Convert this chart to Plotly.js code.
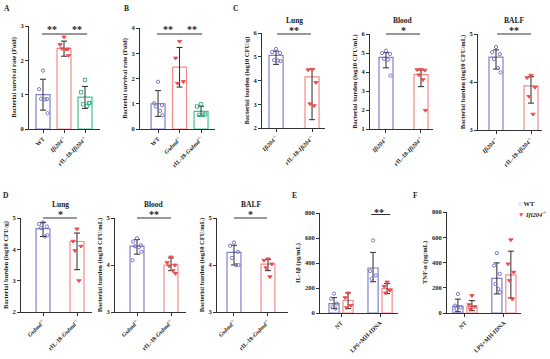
<!DOCTYPE html>
<html><head><meta charset="utf-8">
<script src="https://cdn.plot.ly/plotly-3.0.1.min.js"></script>
<style>html,body{margin:0;padding:0;background:#fff}#chart{width:550px;height:359px}</style>
</head><body><div id="chart"></div>
<script>
// ================= DATA =================
// Panel A – Bacterial survival rate (Fold)
const A_labels = ['WT', '<i>Ifi204</i><sup>-/-</sup>', 'rIL-18-<i>Ifi204</i><sup>-/-</sup>'];
const A_mean = [1.00, 2.35, 0.93];
const A_up   = [0.45, 0.21, 0.31];
const A_dn   = [0.45, 0.23, 0.33];
const A_WT   = [1.70, 1.16, 0.87, 0.88, 0.86, 0.46];
const A_KO   = [2.68, 2.46, 2.33, 2.34, 2.32, 2.14];
const A_RIL  = [1.43, 1.07, 0.75, 0.72, 0.67, 0.76];

// Panel B – Bacterial survival rate (Fold)
const B_labels = ['WT', '<i>Gsdmd</i><sup>-/-</sup>', 'rIL-18-<i>Gsdmd</i><sup>-/-</sup>'];
const B_mean = [1.00, 2.45, 0.70];
const B_up   = [0.52, 0.78, 0.20];
const B_dn   = [0.50, 0.79, 0.18];
const B_WT   = [1.87, 1.02, 0.95, 0.89, 0.72, 0.55];
const B_KO   = [3.47, 2.81, 1.88, 1.81];
const B_RIL  = [0.98, 0.89, 0.58, 0.56, 0.55];

// Panel C – Ifi204-/- vs rIL-18-Ifi204-/-
const C_labels = ['<i>Ifi204</i><sup>-/-</sup>', 'rIL-18-<i>Ifi204</i><sup>-/-</sup>'];
const C_lung_mean = [5.06, 4.15];
const C_lung_up   = [0.18, 0.33];
const C_lung_dn   = [0.38, 1.80];
const C_lung_KO   = [5.33, 5.20, 5.16, 4.86, 4.84, 4.82];
const C_lung_RIL  = [4.47, 4.45, 3.92, 3.02, 2.94];
const C_blood_mean = [4.77, 3.86];
const C_blood_up   = [0.25, 0.24];
const C_blood_dn   = [0.55, 0.63];
const C_blood_KO   = [5.12, 5.00, 4.95, 4.70, 4.65, 3.81];
const C_blood_RIL  = [4.14, 4.12, 4.10, 3.85, 3.60, 1.98];
const C_balf_mean = [4.52, 3.92];
const C_balf_up   = [0.15, 0.19];
const C_balf_dn   = [0.25, 0.36];
const C_balf_KO   = [4.73, 4.62, 4.58, 4.48, 4.29, 4.20];
const C_balf_RIL  = [4.14, 4.09, 3.89, 3.70, 3.33];

// Panel D – Gsdmd-/- vs rIL-18-Gsdmd-/-
const D_labels = ['<i>Gsdmd</i><sup>-/-</sup>', 'rIL-18-<i>Gsdmd</i><sup>-/-</sup>'];
const D_lung_mean = [4.66, 4.25];
const D_lung_up   = [0.20, 0.27];
const D_lung_dn   = [0.25, 0.90];
const D_lung_KO   = [4.86, 4.81, 4.73, 4.68, 4.41, 4.45];
const D_lung_RIL  = [4.65, 4.26, 4.10, 3.96, 3.00];
const D_blood_mean = [4.40, 4.00];
const D_blood_up   = [0.14, 0.15];
const D_blood_dn   = [0.17, 0.12];
const D_blood_KO   = [4.57, 4.50, 4.42, 4.40, 4.38, 4.28, 4.10];
const D_blood_RIL  = [4.17, 4.05, 4.00, 3.98, 3.88, 3.82];
const D_balf_mean = [4.27, 4.02];
const D_balf_up   = [0.15, 0.10];
const D_balf_dn   = [0.27, 0.14];
const D_balf_KO   = [4.48, 4.41, 4.28, 4.15, 4.00, 4.00];
const D_balf_RIL  = [4.13, 4.10, 4.02, 3.94, 3.75];

// Panels E/F – cytokines, WT vs Ifi204-/-
const EF_labels = ['NT', 'LPS+MH-IDNA'];
const E_WT_mean = [75, 360];
const E_WT_up   = [48, 125];
const E_WT_dn   = [40, 110];
const E_KO_mean = [100, 195];
const E_KO_up   = [60, 40];
const E_KO_dn   = [65, 40];
const E_WT_NT   = [155, 115, 75, 50, 35];
const E_KO_NT   = [160, 123, 61, 43];
const E_WT_LPS  = [581, 336, 301, 275];
const E_KO_LPS  = [248, 213, 181, 160];
const F_WT_mean = [55, 275];
const F_WT_up   = [55, 122];
const F_WT_dn   = [45, 124];
const F_KO_mean = [53, 302];
const F_KO_up   = [45, 188];
const F_KO_dn   = [35, 183];
const F_WT_NT   = [151, 58, 45, 32];
const F_KO_NT   = [138, 66, 50, 32];
const F_WT_LPS  = [474, 376, 310, 230, 191, 164];
const F_KO_LPS  = [580, 389, 323, 257, 111];

// ================= STYLE / GEOMETRY =================
const W = 550, H = 359;
const SERIF = 'Liberation Serif, Times New Roman, serif';
const BLUE = '#8181cc', RED = '#f78a8a', GREEN = '#45c194';
const BLUE_PT = '#6c6cc0', RED_PT = '#ee4b4b', GREEN_PT = '#2fae80';
const AXC = '#333';
const JIT = [0, -0.28, 0.28, -0.14, 0.14, 0.32, -0.32];

const WTs = {c: BLUE, pc: BLUE_PT, sym: 'circle', fill: false};
const KOs = {c: RED, pc: RED_PT, sym: 'triangle-down', fill: true};
const RLs = {c: GREEN, pc: GREEN_PT, sym: 'square', fill: false};
const Rs  = {c: RED, pc: RED_PT, sym: 'triangle-down', fill: true};

function grp(x, mean, up, dn, pts, st) { return Object.assign({x, mean, up, dn, pts}, st); }

const panels = [
  {id: 1, xpx: [29, 100], ypx: [26, 129], xr: [-0.667, 2.714], yr: [0, 3], dtick: 1, barW: 0.667,
   ytitle: 'Bacterial survival rate (Fold)', tickvals: [0, 1, 2], ticktext: A_labels,
   groups: [grp(0, A_mean[0], A_up[0], A_dn[0], A_WT, WTs), grp(1, A_mean[1], A_up[1], A_dn[1], A_KO, KOs), grp(2, A_mean[2], A_up[2], A_dn[2], A_RIL, RLs)],
   sig: {x0: -0.05, x1: 2.1, py: 34}, stars: [{x: 0.43, py: 27, t: '**'}, {x: 1.62, py: 27, t: '**'}]},
  {id: 2, xpx: [140, 215], ypx: [28, 129], xr: [-0.84, 2.65], yr: [0, 4], dtick: 1, barW: 0.65,
   ytitle: 'Bacterial survival rate (Fold)', tickvals: [0, 1, 2], ticktext: B_labels,
   groups: [grp(0, B_mean[0], B_up[0], B_dn[0], B_WT, WTs), grp(1, B_mean[1], B_up[1], B_dn[1], B_KO, KOs), grp(2, B_mean[2], B_up[2], B_dn[2], B_RIL, RLs)],
   sig: {x0: -0.05, x1: 2.05, py: 34}, stars: [{x: 0.47, py: 27, t: '**'}, {x: 1.58, py: 27, t: '**'}]},
  {id: 3, xpx: [262, 325], ypx: [33, 128], xr: [-0.39, 1.36], yr: [2, 6], dtick: 1, barW: 0.39,
   ytitle: 'Bacterial burden (log10 CFU/g)', tickvals: [0, 1], ticktext: C_labels,
   groups: [grp(0, C_lung_mean[0], C_lung_up[0], C_lung_dn[0], C_lung_KO, WTs), grp(1, C_lung_mean[1], C_lung_up[1], C_lung_dn[1], C_lung_RIL, Rs)],
   sig: {x0: 0.03, x1: 0.97, py: 34}, stars: [{x: 0.5, py: 28, t: '**'}], title: {x: 0.5, py: 20, t: 'Lung'}},
  {id: 4, xpx: [370, 433], ypx: [34, 129], xr: [-0.457, 1.343], yr: [1, 6], dtick: 1, barW: 0.4,
   ytitle: 'Bacterial burden (log10 CFU/mL)', tickvals: [0, 1], ticktext: C_labels,
   groups: [grp(0, C_blood_mean[0], C_blood_up[0], C_blood_dn[0], C_blood_KO, WTs), grp(1, C_blood_mean[1], C_blood_up[1], C_blood_dn[1], C_blood_RIL, Rs)],
   sig: {x0: 0.0, x1: 0.97, py: 34}, stars: [{x: 0.5, py: 28, t: '*'}], title: {x: 0.5, py: 20, t: 'Blood'}},
  {id: 5, xpx: [478, 542], ypx: [34, 130], xr: [-0.514, 1.314], yr: [3, 5], dtick: 1, barW: 0.4,
   ytitle: 'Bacterial burden (log10 CFU/mL)', tickvals: [0, 1], ticktext: C_labels,
   groups: [grp(0, C_balf_mean[0], C_balf_up[0], C_balf_dn[0], C_balf_KO, WTs), grp(1, C_balf_mean[1], C_balf_up[1], C_balf_dn[1], C_balf_RIL, Rs)],
   sig: {x0: 0.03, x1: 1.0, py: 34}, stars: [{x: 0.5, py: 28, t: '**'}], title: {x: 0.5, py: 20, t: 'BALF'}},
  {id: 6, xpx: [21, 92], ypx: [218, 312], xr: [-0.647, 1.441], yr: [2, 5], dtick: 1, barW: 0.41,
   ytitle: 'Bacterial burden (log10 CFU/g)', tickvals: [0, 1], ticktext: D_labels,
   groups: [grp(0, D_lung_mean[0], D_lung_up[0], D_lung_dn[0], D_lung_KO, WTs), grp(1, D_lung_mean[1], D_lung_up[1], D_lung_dn[1], D_lung_RIL, Rs)],
   sig: {x0: 0.0, x1: 1.0, py: 218}, stars: [{x: 0.5, py: 212, t: '*'}], title: {x: 0.5, py: 204, t: 'Lung'}},
  {id: 7, xpx: [115, 186], ypx: [218, 312], xr: [-0.647, 1.441], yr: [3, 5], dtick: 1, barW: 0.41,
   ytitle: 'Bacterial burden (log10 CFU/mL)', tickvals: [0, 1], ticktext: D_labels,
   groups: [grp(0, D_blood_mean[0], D_blood_up[0], D_blood_dn[0], D_blood_KO, WTs), grp(1, D_blood_mean[1], D_blood_up[1], D_blood_dn[1], D_blood_RIL, Rs)],
   sig: {x0: 0.0, x1: 1.0, py: 218}, stars: [{x: 0.5, py: 212, t: '**'}], title: {x: 0.5, py: 204, t: 'Blood'}},
  {id: 8, xpx: [217, 288], ypx: [218, 312], xr: [-0.5, 1.59], yr: [3, 5], dtick: 1, barW: 0.41,
   ytitle: 'Bacterial burden (log10 CFU/mL)', tickvals: [0, 1], ticktext: D_labels,
   groups: [grp(0, D_balf_mean[0], D_balf_up[0], D_balf_dn[0], D_balf_KO, WTs), grp(1, D_balf_mean[1], D_balf_up[1], D_balf_dn[1], D_balf_RIL, Rs)],
   sig: {x0: 0.0, x1: 0.97, py: 218}, stars: [{x: 0.5, py: 212, t: '*'}], title: {x: 0.5, py: 204, t: 'BALF'}},
  {id: 9, xpx: [320, 398], ypx: [213, 313], xr: [-0.54, 1.46], yr: [0, 800], dtick: 200, barW: 0.26,
   ytitle: 'IL-1β (pg/mL)', tickvals: [0, 1], ticktext: EF_labels, plain: true,
   groups: [grp(-0.18, E_WT_mean[0], E_WT_up[0], E_WT_dn[0], E_WT_NT, WTs), grp(0.18, E_KO_mean[0], E_KO_up[0], E_KO_dn[0], E_KO_NT, Rs),
            grp(0.82, E_WT_mean[1], E_WT_up[1], E_WT_dn[1], E_WT_LPS, WTs), grp(1.18, E_KO_mean[1], E_KO_up[1], E_KO_dn[1], E_KO_LPS, Rs)],
   sig: {x0: 0.77, x1: 1.26, py: 214.5}, stars: [{x: 0.97, py: 210, t: '**'}]},
  {id: 10, xpx: [447, 521], ypx: [212, 313], xr: [-0.46, 1.44], yr: [0, 800], dtick: 200, barW: 0.26,
   ytitle: 'TNF-α (pg/mL)', tickvals: [0, 1], ticktext: EF_labels, plain: true,
   groups: [grp(-0.18, F_WT_mean[0], F_WT_up[0], F_WT_dn[0], F_WT_NT, WTs), grp(0.18, F_KO_mean[0], F_KO_up[0], F_KO_dn[0], F_KO_NT, Rs),
            grp(0.82, F_WT_mean[1], F_WT_up[1], F_WT_dn[1], F_WT_LPS, WTs), grp(1.18, F_KO_mean[1], F_KO_up[1], F_KO_dn[1], F_KO_LPS, Rs)]}
];

const traces = [];
const layout = {
  width: W, height: H, margin: {l: 0, r: 0, t: 0, b: 0}, paper_bgcolor: '#fff', plot_bgcolor: 'rgba(0,0,0,0)',
  showlegend: false, barmode: 'overlay',
  font: {family: SERIF, size: 7, color: '#222', weight: 'bold'},
  shapes: [], annotations: []
};

function py2paper(py) { return 1 - py / H; }

panels.forEach(p => {
  const s = p.id === 1 ? '' : String(p.id);
  const xa = 'x' + s, ya = 'y' + s;
  p.groups.forEach(g => {
    traces.push({type: 'bar', x: [g.x], y: [g.mean], width: [p.barW], xaxis: xa, yaxis: ya,
      marker: {color: 'rgba(255,255,255,0)', line: {color: g.c, width: 1.2}},
      error_y: {type: 'data', symmetric: false, array: [g.up], arrayminus: [g.dn], color: '#2a2a2a', thickness: 1, width: 3},
      hoverinfo: 'skip', showlegend: false});
    const xs = g.pts.map((v, i) => g.x + JIT[i % JIT.length] * p.barW);
    traces.push({type: 'scatter', mode: 'markers', x: xs, y: g.pts, xaxis: xa, yaxis: ya, cliponaxis: false,
      marker: {symbol: g.sym, size: g.fill ? 3.8 : 3.3, color: g.fill ? g.pc : 'rgba(0,0,0,0)', line: {color: g.pc, width: 0.9}},
      hoverinfo: 'skip', showlegend: false});
  });
  layout['xaxis' + s] = {domain: [p.xpx[0] / W, p.xpx[1] / W], range: p.xr, anchor: ya,
    tickmode: 'array', tickvals: p.tickvals, ticktext: p.ticktext, tickangle: -45,
    ticks: 'outside', ticklen: 3, tickwidth: 1, tickcolor: AXC, showline: true, linecolor: AXC, linewidth: 1,
    showgrid: false, zeroline: false, automargin: false, fixedrange: true,
    tickfont: {family: SERIF, size: 6, color: '#222', weight: 'bold'}};
  layout['yaxis' + s] = {domain: [py2paper(p.ypx[1]), py2paper(p.ypx[0])], range: p.yr, anchor: xa,
    tick0: 0, dtick: p.dtick, ticks: 'outside', ticklen: 3, tickwidth: 1, tickcolor: AXC,
    showline: true, linecolor: AXC, linewidth: 1, showgrid: false, zeroline: false, automargin: false, fixedrange: true,
    tickfont: {family: SERIF, size: 6.5, color: '#222', weight: 'bold'},
    title: {text: p.ytitle, standoff: 3, font: {family: SERIF, size: 6.5, color: '#222', weight: 'bold'}}};
  if (p.sig) {
    layout.shapes.push({type: 'line', xref: xa, yref: 'paper', x0: p.sig.x0, x1: p.sig.x1,
      y0: py2paper(p.sig.py), y1: py2paper(p.sig.py), line: {color: AXC, width: 1}});
  }
  (p.stars || []).forEach(st => layout.annotations.push({xref: xa, yref: 'paper', x: st.x, y: py2paper(st.py + 2.5),
    text: st.t, showarrow: false, xanchor: 'center', yanchor: 'middle',
    font: {family: SERIF, size: 10, color: '#222', weight: 'bold'}}));
  if (p.title) layout.annotations.push({xref: xa, yref: 'paper', x: p.title.x, y: py2paper(p.title.py),
    text: p.title.t, showarrow: false, xanchor: 'center', yanchor: 'middle',
    font: {family: SERIF, size: 7.5, color: '#222', weight: 'bold'}});
});

// panel letters
[['A', 7, 9], ['B', 126, 9], ['C', 235, 9], ['D', 6, 195], ['E', 294, 195], ['F', 415, 195]].forEach(l =>
  layout.annotations.push({xref: 'paper', yref: 'paper', x: l[1] / W, y: py2paper(l[2]), text: l[0], showarrow: false,
    xanchor: 'center', yanchor: 'middle', font: {family: SERIF, size: 7.5, color: '#222', weight: 'bold'}}));

// legend (E/F)
layout.annotations.push({xref: 'paper', yref: 'paper', x: 516 / W, y: py2paper(203), xanchor: 'left', yanchor: 'middle', showarrow: false,
  text: '<span style="color:' + BLUE_PT + '">○</span> WT', font: {family: SERIF, size: 6.5, color: '#222', weight: 'bold'}});
layout.annotations.push({xref: 'paper', yref: 'paper', x: 516 / W, y: py2paper(214), xanchor: 'left', yanchor: 'middle', showarrow: false,
  text: '<span style="color:' + RED_PT + '">▼</span> <i>Ifi204</i><sup>-/-</sup>', font: {family: SERIF, size: 6.5, color: '#222', weight: 'bold'}});

Plotly.newPlot('chart', traces, layout, {staticPlot: true, displayModeBar: false});
</script></body></html>
